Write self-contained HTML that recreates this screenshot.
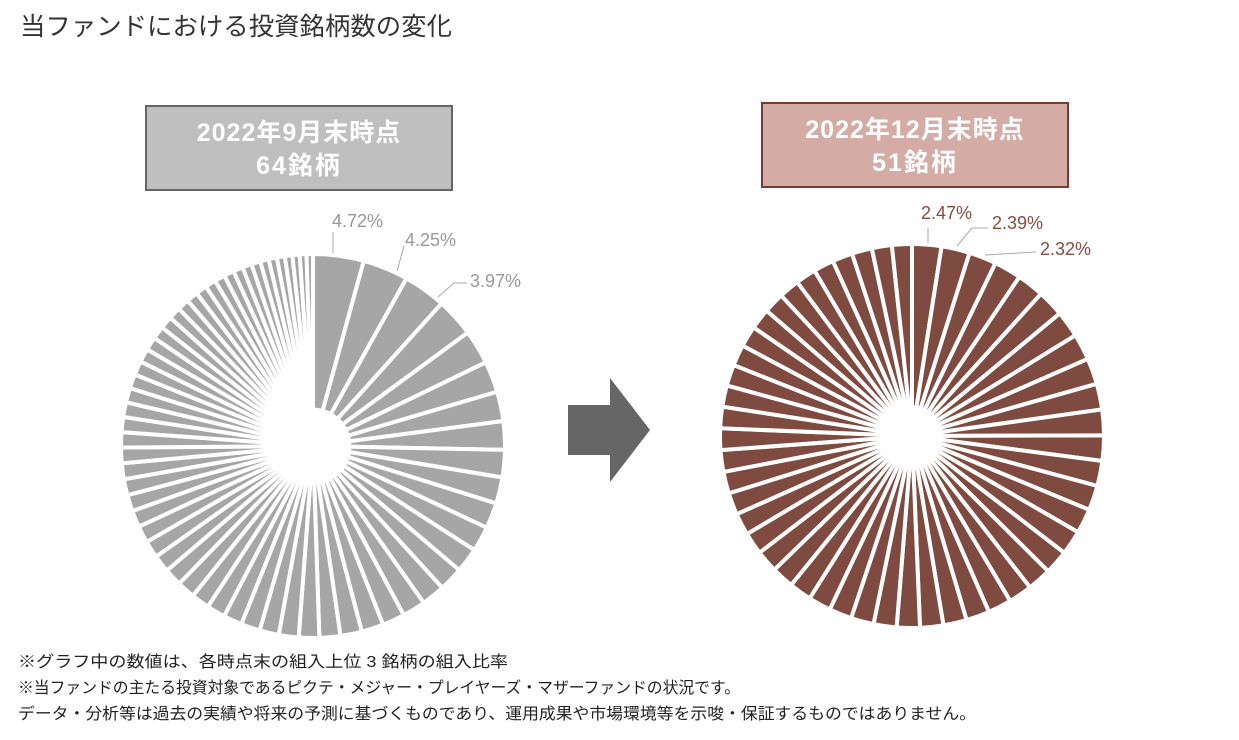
<!DOCTYPE html>
<html><head><meta charset="utf-8">
<style>
html,body{margin:0;padding:0;background:#fff;}
svg{display:block;font-family:"Liberation Sans","Noto Sans CJK JP",sans-serif;}
</style></head>
<body>
<svg id="chart" width="1239" height="740" viewBox="0 0 1239 740" xmlns="http://www.w3.org/2000/svg">
<text x="20" y="35" font-size="25" fill="#333" textLength="432" lengthAdjust="spacingAndGlyphs">当ファンドにおける投資銘柄数の変化</text>

<g>
<rect x="146" y="106" width="306" height="84" fill="#bfbfbf" stroke="#666" stroke-width="2"/>
<text x="299" y="141" font-size="25" font-weight="bold" fill="#fff" text-anchor="middle" letter-spacing="1">2022年9月末時点</text>
<text x="299" y="174" font-size="25" font-weight="bold" fill="#fff" text-anchor="middle" letter-spacing="2">64銘柄</text>
</g>
<g>
<rect x="762" y="103" width="306" height="84" fill="#d5aba6" stroke="#7a3a34" stroke-width="2"/>
<text x="915" y="138" font-size="25" font-weight="bold" fill="#fff" text-anchor="middle" letter-spacing="1">2022年12月末時点</text>
<text x="915" y="171" font-size="25" font-weight="bold" fill="#fff" text-anchor="middle" letter-spacing="2">51銘柄</text>
</g>

<path d="M568 405 H610 V378 L650 430 L610 482 V455 H568 Z" fill="#666"/>

<g id="pieLeft"></g>
<g id="pieRight"></g>

<g>
<polyline points="333,253 333,232" fill="none" stroke="#aaa" stroke-width="1"/>
<text x="332" y="227" font-size="18" fill="#999">4.72%</text>
<polyline points="397,271 404,246" fill="none" stroke="#aaa" stroke-width="1"/>
<text x="405" y="246" font-size="18" fill="#999">4.25%</text>
<polyline points="438,297 454,283 467,283" fill="none" stroke="#aaa" stroke-width="1"/>
<text x="470" y="287" font-size="18" fill="#999">3.97%</text>
</g>
<g>
<polyline points="928,243 928,228" fill="none" stroke="#aaa" stroke-width="1"/>
<text x="921" y="219" font-size="18" fill="#8a4a40">2.47%</text>
<polyline points="957,246 972,228 988,228" fill="none" stroke="#aaa" stroke-width="1"/>
<text x="992" y="229" font-size="18" fill="#8a4a40">2.39%</text>
<polyline points="985,255 1036,252" fill="none" stroke="#aaa" stroke-width="1"/>
<text x="1040" y="255" font-size="18" fill="#8a4a40">2.32%</text>
</g>

<g font-size="16" fill="#222">
<text x="18" y="667" textLength="490" lengthAdjust="spacingAndGlyphs">※グラフ中の数値は、各時点末の組入上位 3 銘柄の組入比率</text>
<text x="18" y="693" textLength="722" lengthAdjust="spacingAndGlyphs">※当ファンドの主たる投資対象であるピクテ・メジャー・プレイヤーズ・マザーファンドの状況です。</text>
<text x="18" y="719" textLength="958" lengthAdjust="spacingAndGlyphs">データ・分析等は過去の実績や将来の予測に基づくものであり、運用成果や市場環境等を示唆・保証するものではありません。</text>
</g>
</svg>
<script>
const sepWeights = [4.72,4.25,3.97,3.6,3.2,2.9,2.75,2.65,2.55,2.45,2.4,2.35,2.3,2.25,2.2,2.15,2.1,2.05,2.0,1.95,1.9,1.85,1.8,1.78,1.75,1.72,1.7,1.68,1.65,1.62,1.6,1.58,1.55,1.52,1.5,1.48,1.45,1.42,1.4,1.38,1.35,1.32,1.3,1.27,1.24,1.2,1.17,1.14,1.1,1.07,1.04,1.0,0.97,0.94,0.9,0.87,0.84,0.8,0.77,0.74,0.7,0.67,0.63,0.6];
const decWeights = [2.47,2.39,2.32,2.3,2.28,2.26,2.24,2.22,2.2,2.18,2.16,2.14,2.12,2.1,2.08,2.06,2.04,2.02,2.0,1.99,1.98,1.97,1.96,1.95,1.94,1.93,1.92,1.91,1.9,1.89,1.88,1.87,1.86,1.85,1.84,1.83,1.82,1.81,1.8,1.79,1.78,1.77,1.76,1.75,1.74,1.73,1.72,1.71,1.7,1.69,1.68];

function drawPie(gid, vals, cx, cy, r, fill, name, hole){
  const g = document.getElementById(gid);
  const total = vals.reduce((a,b)=>a+b,0);
  let a0 = 0;
  vals.forEach((v,i)=>{
    const a1 = a0 + v/total*2*Math.PI;
    const x0 = cx + r*Math.sin(a0), y0 = cy - r*Math.cos(a0);
    const x1 = cx + r*Math.sin(a1), y1 = cy - r*Math.cos(a1);
    const large = (a1-a0) > Math.PI ? 1 : 0;
    const p = document.createElementNS('http://www.w3.org/2000/svg','path');
    p.setAttribute('d', `M${cx},${cy} L${x0},${y0} A${r},${r} 0 ${large} 1 ${x1},${y1} Z`);
    p.setAttribute('fill', fill);
    p.setAttribute('stroke', '#fff');
    p.setAttribute('stroke-width', '4');
    
    
    g.appendChild(p);
    a0 = a1;
  });
  const c = document.createElementNS('http://www.w3.org/2000/svg','circle');
  c.setAttribute('cx', cx); c.setAttribute('cy', cy); c.setAttribute('r', r*hole);
  c.setAttribute('fill', '#fff');
  
  
  g.appendChild(c);
}
drawPie('pieLeft', sepWeights, 313, 446, 192, '#a6a6a6', 'sep', 0.2);
drawPie('pieRight', decWeights, 912, 436, 192, '#7f4a40', 'dec', 0.16);
</script>
</body></html>
